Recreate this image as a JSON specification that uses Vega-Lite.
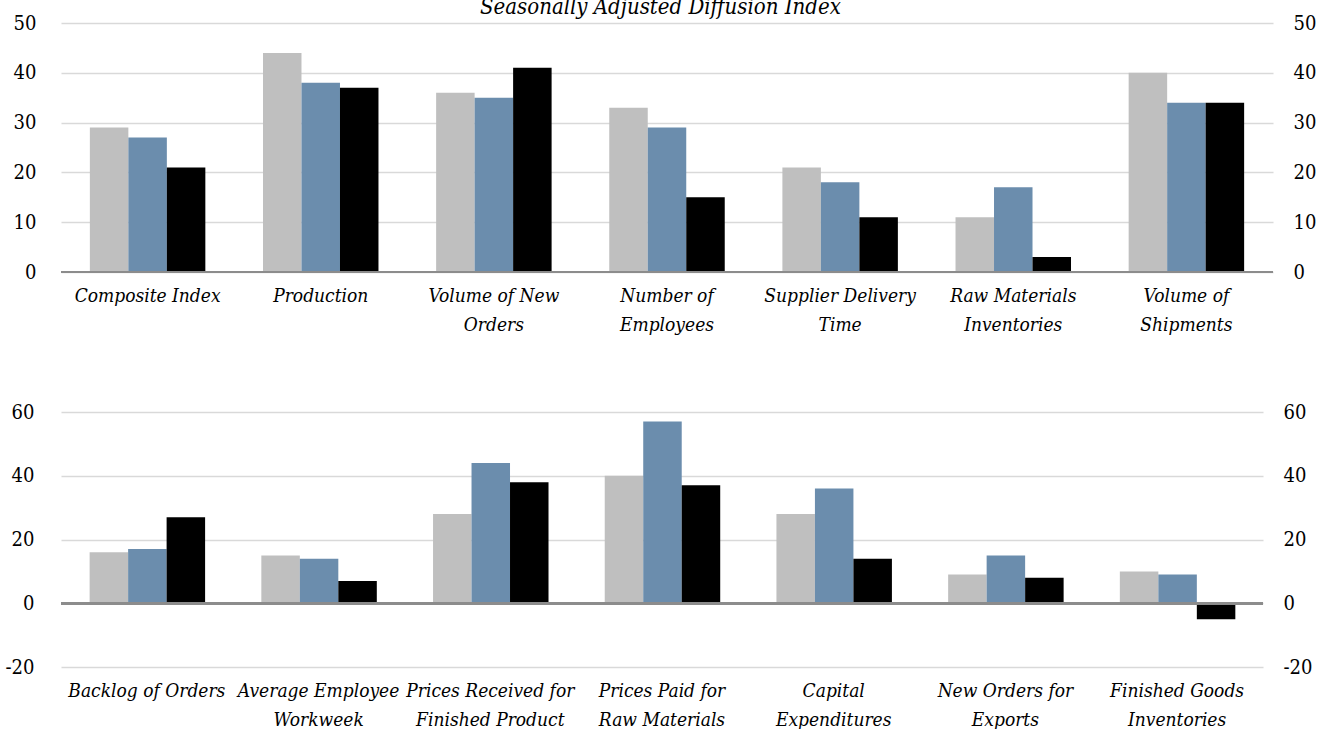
{
  "$schema": "https://vega.github.io/schema/vega-lite/v6.json",
  "padding": {"top": -4, "left": 5, "right": 5, "bottom": 0},
  "background": "white",
  "title": {"text": "Seasonally Adjusted Diffusion Index", "font": "DejaVu Serif Condensed", "fontStyle": "italic", "fontWeight": "normal", "fontSize": 22, "anchor": "middle", "frame": "bounds", "offset": -6, "color": "#000"},
  "datasets": {
    "top": [
      {"category": "Composite Index", "series": "Period 1", "value": 29},
      {"category": "Composite Index", "series": "Period 2", "value": 27},
      {"category": "Composite Index", "series": "Period 3", "value": 21},
      {"category": "Production", "series": "Period 1", "value": 44},
      {"category": "Production", "series": "Period 2", "value": 38},
      {"category": "Production", "series": "Period 3", "value": 37},
      {"category": "Volume of New Orders", "series": "Period 1", "value": 36},
      {"category": "Volume of New Orders", "series": "Period 2", "value": 35},
      {"category": "Volume of New Orders", "series": "Period 3", "value": 41},
      {"category": "Number of Employees", "series": "Period 1", "value": 33},
      {"category": "Number of Employees", "series": "Period 2", "value": 29},
      {"category": "Number of Employees", "series": "Period 3", "value": 15},
      {"category": "Supplier Delivery Time", "series": "Period 1", "value": 21},
      {"category": "Supplier Delivery Time", "series": "Period 2", "value": 18},
      {"category": "Supplier Delivery Time", "series": "Period 3", "value": 11},
      {"category": "Raw Materials Inventories", "series": "Period 1", "value": 11},
      {"category": "Raw Materials Inventories", "series": "Period 2", "value": 17},
      {"category": "Raw Materials Inventories", "series": "Period 3", "value": 3},
      {"category": "Volume of Shipments", "series": "Period 1", "value": 40},
      {"category": "Volume of Shipments", "series": "Period 2", "value": 34},
      {"category": "Volume of Shipments", "series": "Period 3", "value": 34}
    ],
    "bottom": [
      {"category": "Backlog of Orders", "series": "Period 1", "value": 16},
      {"category": "Backlog of Orders", "series": "Period 2", "value": 17},
      {"category": "Backlog of Orders", "series": "Period 3", "value": 27},
      {"category": "Average Employee Workweek", "series": "Period 1", "value": 15},
      {"category": "Average Employee Workweek", "series": "Period 2", "value": 14},
      {"category": "Average Employee Workweek", "series": "Period 3", "value": 7},
      {"category": "Prices Received for Finished Product", "series": "Period 1", "value": 28},
      {"category": "Prices Received for Finished Product", "series": "Period 2", "value": 44},
      {"category": "Prices Received for Finished Product", "series": "Period 3", "value": 38},
      {"category": "Prices Paid for Raw Materials", "series": "Period 1", "value": 40},
      {"category": "Prices Paid for Raw Materials", "series": "Period 2", "value": 57},
      {"category": "Prices Paid for Raw Materials", "series": "Period 3", "value": 37},
      {"category": "Capital Expenditures", "series": "Period 1", "value": 28},
      {"category": "Capital Expenditures", "series": "Period 2", "value": 36},
      {"category": "Capital Expenditures", "series": "Period 3", "value": 14},
      {"category": "New Orders for Exports", "series": "Period 1", "value": 9},
      {"category": "New Orders for Exports", "series": "Period 2", "value": 15},
      {"category": "New Orders for Exports", "series": "Period 3", "value": 8},
      {"category": "Finished Goods Inventories", "series": "Period 1", "value": 10},
      {"category": "Finished Goods Inventories", "series": "Period 2", "value": 9},
      {"category": "Finished Goods Inventories", "series": "Period 3", "value": -5}
    ]
  },
  "config": {
    "view": {"stroke": null},
    "axis": {"labelFont": "DejaVu Serif Condensed", "labelFontSize": 20, "labelColor": "#000", "ticks": false, "domain": false, "title": null, "gridColor": "#D9D9D9", "gridWidth": 1.5}
  },
  "columns": 1,
  "align": "none",
  "spacing": 68,
  "concat": [
    {
      "width": 1212, "height": 249,
      "data": {"name": "top"},
      "layer": [
        {
          "mark": {"type": "bar"},
          "encoding": {
            "x": {"field": "category", "type": "nominal", "sort": null, "scale": {"paddingInner": 0.333, "paddingOuter": 0.1667},
              "axis": {"labelAngle": 0, "labelFontStyle": "italic", "labelFontSize": 19, "labelPadding": 14, "labelLineHeight": 29, "labelLimit": 400, "labelBaseline": "top", "grid": false,
                "labelExpr": "datum.label == 'Volume of New Orders' ? ['Volume of New', 'Orders'] : datum.label == 'Number of Employees' ? ['Number of', 'Employees'] : datum.label == 'Supplier Delivery Time' ? ['Supplier Delivery', 'Time'] : datum.label == 'Raw Materials Inventories' ? ['Raw Materials', 'Inventories'] : datum.label == 'Volume of Shipments' ? ['Volume of', 'Shipments'] : datum.label"}},
            "xOffset": {"field": "series", "type": "nominal", "sort": null, "scale": {"paddingInner": 0, "paddingOuter": 0}},
            "y": {"field": "value", "type": "quantitative", "scale": {"domain": [0, 50], "nice": false}, "axis": {"orient": "left", "values": [0, 10, 20, 30, 40, 50], "grid": true, "labelPadding": 25, "labelExpr": "'' + datum.value"}},
            "color": {"field": "series", "type": "nominal", "sort": null, "scale": {"range": ["#BFBFBF", "#6B8DAD", "#000000"]}, "legend": null}
          }
        },
        {
          "mark": {"type": "rule", "color": "#8C8C8C", "strokeWidth": 2},
          "encoding": {"y": {"datum": 0, "type": "quantitative", "axis": {"orient": "right", "values": [0, 10, 20, 30, 40, 50], "grid": false, "labelPadding": 20, "labelExpr": "'' + datum.value"}}}
        }
      ],
      "resolve": {"axis": {"y": "independent"}}
    },
    {
      "width": 1202, "height": 255,
      "data": {"name": "bottom"},
      "layer": [
        {
          "mark": {"type": "bar"},
          "encoding": {
            "x": {"field": "category", "type": "nominal", "sort": null, "scale": {"paddingInner": 0.333, "paddingOuter": 0.1667},
              "axis": {"labelAngle": 0, "labelFontStyle": "italic", "labelFontSize": 19, "labelPadding": 14, "labelLineHeight": 29, "labelLimit": 400, "labelBaseline": "top", "grid": false,
                "labelExpr": "datum.label == 'Average Employee Workweek' ? ['Average Employee', 'Workweek'] : datum.label == 'Prices Received for Finished Product' ? ['Prices Received for', 'Finished Product'] : datum.label == 'Prices Paid for Raw Materials' ? ['Prices Paid for', 'Raw Materials'] : datum.label == 'Capital Expenditures' ? ['Capital', 'Expenditures'] : datum.label == 'New Orders for Exports' ? ['New Orders for', 'Exports'] : datum.label == 'Finished Goods Inventories' ? ['Finished Goods', 'Inventories'] : datum.label"}},
            "xOffset": {"field": "series", "type": "nominal", "sort": null, "scale": {"paddingInner": 0, "paddingOuter": 0}},
            "y": {"field": "value", "type": "quantitative", "scale": {"domain": [-20, 60], "nice": false}, "axis": {"orient": "left", "values": [-20, 0, 20, 40, 60], "grid": true, "labelPadding": 27, "labelExpr": "'' + datum.value"}},
            "color": {"field": "series", "type": "nominal", "sort": null, "scale": {"range": ["#BFBFBF", "#6B8DAD", "#000000"]}, "legend": null}
          }
        },
        {
          "mark": {"type": "rule", "color": "#8C8C8C", "strokeWidth": 2},
          "encoding": {"y": {"datum": 0, "type": "quantitative", "axis": {"orient": "right", "values": [-20, 0, 20, 40, 60], "grid": false, "labelPadding": 20, "labelExpr": "'' + datum.value"}}}
        }
      ],
      "resolve": {"axis": {"y": "independent"}}
    }
  ]
}
